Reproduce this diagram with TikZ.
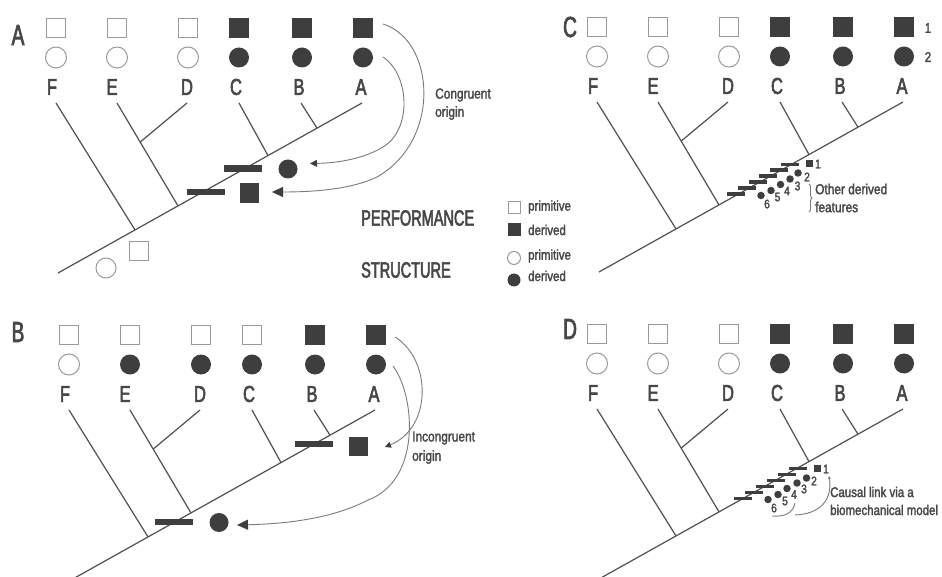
\documentclass[tikz,border=0pt]{standalone}
\usepackage{fontspec}
\usetikzlibrary{calc,arrows.meta,decorations.pathreplacing}
\newfontfamily\condfont[FakeStretch=0.72,FakeBold=2.5]{Liberation Sans}
\newfontfamily\narrowfont[FakeStretch=0.66,FakeBold=2.5]{Liberation Sans}
\newfontfamily\smallfont[FakeStretch=0.82,FakeBold=2]{Liberation Sans}
\definecolor{dgray}{HTML}{3E3E3E}
\definecolor{lgray}{HTML}{9A9A9A}
\definecolor{bgray}{HTML}{505050}
\definecolor{tgray}{HTML}{474747}
\definecolor{cgray}{HTML}{7A7A7A}
\newcommand\cladetree{%
  \coordinate (root) at (58,273);
  \coordinate (top) at (362,103);
  \coordinate (tF) at (56,103);
  \coordinate (tE) at (117,103);
  \coordinate (tD) at (187,103);
  \coordinate (tC) at (239,103);
  \coordinate (tB) at (301,103);
  \coordinate (jF) at ($(root)!0.2533!(top)$);
  \coordinate (jE) at ($(root)!0.3947!(top)$);
  \coordinate (jC) at ($(root)!0.6908!(top)$);
  \coordinate (jB) at ($(root)!0.852!(top)$);
  \coordinate (jD) at ($(tE)!0.38!(jE)$);
  \draw[branch] (root) -- (top);
  \draw[branch] (tF) -- (jF);
  \draw[branch] (tE) -- (jE);
  \draw[branch] (tD) -- (jD);
  \draw[branch] (tC) -- (jC);
  \draw[branch] (tB) -- (jB);
  \foreach \n/\x in {F/52,E/112,D/187,C/236,B/299,A/361}
    \node[taxon] (l\n) at (\x,87) {\n};
}
\newcommand\symbolrow[1]{%
  \foreach \n/\x/\sq/\ci in {#1} {
    \node[\sq] (sq\n) at (\x,28) {};
    \node[\ci] (ci\n) at (\x,57.5) {};
  }
}
\begin{document}
\begin{tikzpicture}[x=1pt,y=-1pt,
  openbox/.style={draw=lgray,line width=1pt,minimum size=19pt,inner sep=0pt},
  fullbox/.style={fill=dgray,minimum size=20pt,inner sep=0pt},
  opendot/.style={circle,draw=lgray,line width=1pt,minimum size=21pt,inner sep=0pt},
  fulldot/.style={circle,fill=dgray,minimum size=20pt,inner sep=0pt},
  taxon/.style={text=tgray,font=\condfont\fontsize{23}{23}\selectfont,inner sep=0pt},
  panellabel/.style={text=tgray,font=\narrowfont\fontsize{29}{29}\selectfont,inner sep=0pt},
  bigword/.style={text=tgray,font=\narrowfont\fontsize{22}{22}\selectfont,inner sep=0pt,anchor=west},
  note/.style={text=tgray,font=\smallfont\fontsize{14.5}{14.5}\selectfont,inner sep=0pt,anchor=west},
  legendtext/.style={text=tgray,font=\smallfont\fontsize{14}{14}\selectfont,inner sep=0pt,anchor=west},
  num/.style={text=tgray,font=\smallfont\fontsize{12.5}{12.5}\selectfont,inner sep=0pt},
  branch/.style={draw=bgray,line width=1.2pt},
  bigbar/.style={fill=dgray,minimum width=38pt,minimum height=6.5pt,inner sep=0pt},
  smallbar/.style={fill=dgray,minimum width=18pt,minimum height=3.8pt,inner sep=0pt},
  smalldot/.style={circle,fill=dgray,minimum size=7.5pt,inner sep=0pt},
  smallbox/.style={fill=dgray,minimum size=7pt,inner sep=0pt},
  curve/.style={draw=cgray,line width=0.9pt},
  bigtip/.style={-{Triangle[length=11pt,width=10pt,color=dgray]}},
  midtip/.style={-{Triangle[length=7pt,width=7pt,color=dgray]}},
  tinytip/.style={-{Triangle[length=6pt,width=6pt,color=dgray]}}
]
\useasboundingbox (0,0) rectangle (942,577);
\fill[white] (0,0) rectangle (942,577);

% panel letters
\node[panellabel] (pA) at (18,35) {A};
\node[panellabel] (pB) at (18,332) {B};
\node[panellabel] (pC) at (570,27) {C};
\node[panellabel] (pD) at (570,329) {D};

% ---------- Panel A ----------
\begin{scope}[name prefix=a-]
  \cladetree
  \symbolrow{F/56/openbox/opendot,E/117/openbox/opendot,D/188/openbox/opendot,C/239/fullbox/fulldot,B/302/fullbox/fulldot,A/363/fullbox/fulldot}
  \node[bigbar] (bar1) at (243,168.5) {};
  \node[bigbar] (bar2) at (205.5,192) {};
  \node[fulldot,minimum size=19pt] (dc) at (288,169) {};
  \node[fullbox,minimum width=19pt,minimum height=20pt] (dq) at (249.5,193) {};
  \node[opendot,minimum size=20pt] (anc1) at (106,268) {};
  \node[openbox] (anc2) at (139,251) {};
  \coordinate (s1) at (383,24);
  \coordinate (s2) at (383,57);
  \coordinate (e1) at (272,192);
  \coordinate (e2) at (310,163.5);
  \draw[curve,bigtip] (s1) .. controls (435,40) and (442,140) .. (377,177) .. controls (350,190) and (310,192) .. (e1);
  \draw[curve,midtip] (s2) .. controls (410,75) and (412,130) .. (383,147) .. controls (365,158) and (340,163) .. (e2);
  \node[note] (cong1) at (435,95) {Congruent};
  \node[note] (cong2) at (435,113) {origin};
\end{scope}

% ---------- Legend ----------
\node[bigword] (perf) at (361,218) {PERFORMANCE};
\node[bigword] (struc) at (361,270) {STRUCTURE};
\node[openbox,minimum size=12pt] (lg1) at (514,208) {};
\node[legendtext] (lt1) at (528,207) {primitive};
\node[fullbox,minimum size=13pt] (lg2) at (514,230) {};
\node[legendtext] (lt2) at (528,230) {derived};
\node[opendot,minimum size=13pt] (lg3) at (514,258) {};
\node[legendtext] (lt3) at (528,256) {primitive};
\node[fulldot,minimum size=13pt] (lg4) at (514,280) {};
\node[legendtext] (lt4) at (528,276) {derived};

% ---------- Panel B ----------
\begin{scope}[shift={(13,307)},name prefix=b-]
  \cladetree
  \symbolrow{F/56/openbox/opendot,E/117/openbox/fulldot,D/188/openbox/fulldot,C/239/openbox/fulldot,B/302/fullbox/fulldot,A/363/fullbox/fulldot}
\end{scope}
\node[bigbar] (b-bar1) at (314,444) {};
\node[fullbox,minimum size=19pt] (b-dq) at (358.5,446.5) {};
\node[bigbar] (b-bar2) at (174,522) {};
\node[fulldot,minimum size=19pt] (b-dc) at (219,522.5) {};
\coordinate (b-s1) at (395,337);
\coordinate (b-s2) at (393,366);
\coordinate (b-e1) at (385,447);
\coordinate (b-e2) at (237,525);
\draw[curve,tinytip] (b-s1) .. controls (432,360) and (432,428) .. (b-e1);
\draw[curve,bigtip] (b-s2) .. controls (415,395) and (422,480) .. (368,500) .. controls (330,520) and (280,524) .. (b-e2);
\node[note] (inc1) at (412,438) {Incongruent};
\node[note] (inc2) at (412,457) {origin};

% ---------- Panel C ----------
\begin{scope}[shift={(541,-1)},name prefix=c-]
  \cladetree
  \symbolrow{F/56/openbox/opendot,E/117/openbox/opendot,D/188/openbox/opendot,C/239/fullbox/fulldot,B/302/fullbox/fulldot,A/363/fullbox/fulldot}
\end{scope}
\node[num,font=\smallfont\fontsize{14}{14}\selectfont] (c-n1) at (928,28) {1};
\node[num,font=\smallfont\fontsize{14}{14}\selectfont] (c-n2) at (928,57) {2};
\foreach \k in {1,...,6} {
  \node[smallbar] (c-bar\k) at ({736+(6-\k)*10.8},{194-(6-\k)*5.9}) {};
}
\node[smallbox] (c-f1) at (809,164) {};
\node[smalldot] (c-f2) at (798,173) {};
\node[smalldot] (c-f3) at (790,179) {};
\node[smalldot] (c-f4) at (780.5,184.5) {};
\node[smalldot] (c-f5) at (771,190.5) {};
\node[smalldot] (c-f6) at (761,195.5) {};
\node[num] (c-m1) at (818,164) {1};
\node[num] (c-m2) at (807,177) {2};
\node[num] (c-m3) at (797.5,186) {3};
\node[num] (c-m4) at (787,191) {4};
\node[num] (c-m5) at (777.5,197) {5};
\node[num] (c-m6) at (767,204) {6};
\coordinate (c-b1) at (809,184);
\coordinate (c-b2) at (809,212);
\draw[curve,decorate,decoration={brace,amplitude=3pt}] (c-b1) -- (c-b2);
\node[note] (c-t1) at (815,189) {Other derived};
\node[note] (c-t2) at (815,207) {features};

% ---------- Panel D ----------
\begin{scope}[shift={(541,306)},name prefix=d-]
  \cladetree
  \symbolrow{F/56/openbox/opendot,E/117/openbox/opendot,D/188/openbox/opendot,C/239/fullbox/fulldot,B/302/fullbox/fulldot,A/363/fullbox/fulldot}
\end{scope}
\foreach \k in {1,...,6} {
  \node[smallbar] (d-bar\k) at ({743+(6-\k)*11},{498.5-(6-\k)*6}) {};
}
\node[smallbox] (d-f1) at (817,468.5) {};
\node[smalldot] (d-f2) at (806.5,478) {};
\node[smalldot] (d-f3) at (797,483) {};
\node[smalldot] (d-f4) at (787,488.5) {};
\node[smalldot] (d-f5) at (778,494.5) {};
\node[smalldot] (d-f6) at (768,499.5) {};
\node[num] (d-m1) at (826,469) {1};
\node[num] (d-m2) at (814,481) {2};
\node[num] (d-m3) at (804,489) {3};
\node[num] (d-m4) at (794,494.5) {4};
\node[num] (d-m5) at (785,501) {5};
\node[num] (d-m6) at (774,508) {6};
\coordinate (d-a1) at (795,515);
\coordinate (d-a2) at (829,476);
\coordinate (d-a3) at (795,503);
\coordinate (d-a4) at (772,516);
\draw[curve,-{Stealth[length=3pt,width=3pt]}] (d-a1) .. controls (820,514) and (833,500) .. (d-a2);
\draw[curve] (d-a3) .. controls (793,513) and (785,517) .. (d-a4);
\node[note,font=\smallfont\fontsize{14}{14}\selectfont] (d-t1) at (830,492) {Causal link via a};
\node[note,font=\smallfont\fontsize{14}{14}\selectfont] (d-t2) at (830,510) {biomechanical model};
\end{tikzpicture}
\end{document}
